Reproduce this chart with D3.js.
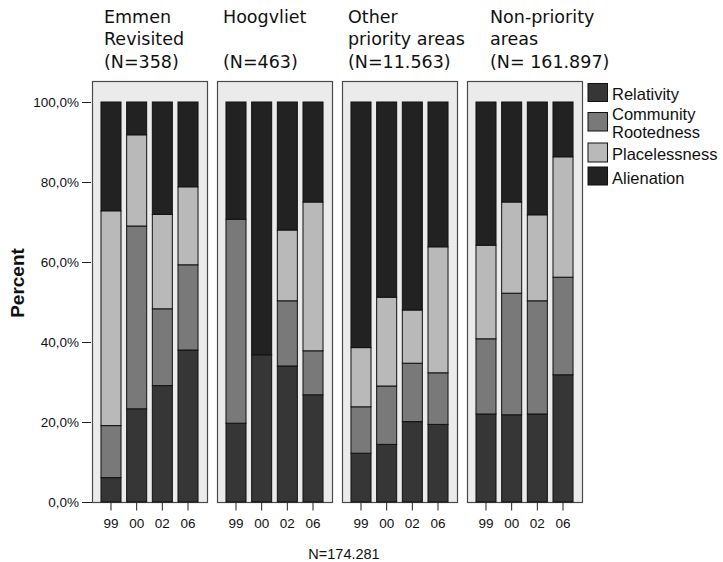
<!DOCTYPE html>
<html>
<head>
<meta charset="utf-8">
<script src="https://cdn.jsdelivr.net/npm/d3@7"></script>
<style>
  body { margin: 0; background: #fff; }
  svg { display: block; }
  text { font-family: "Liberation Sans", Arial, sans-serif; fill: #111; }
  .title { font-family: "DejaVu Sans", sans-serif; font-size: 17.5px; }
</style>
</head>
<body>
<svg width="723" height="562"></svg>
<script>
// data (percent per year inside each area)
var areas = ["Emmen Revisited", "Hoogvliet", "Other priority areas", "Non-priority areas"];
var titleLines = [
  ["Emmen", "Revisited", "(N=358)"],
  ["Hoogvliet", "", "(N=463)"],
  ["Other", "priority areas", "(N=11.563)"],
  ["Non-priority", "areas", "(N= 161.897)"]
];
var years = ["99", "00", "02", "06"];
var categories = ["Relativity", "Community Rootedness", "Placelessness", "Alienation"];

var relativity    = [[6.1, 23.3, 29.1, 38.0], [19.7, 36.8, 34.0, 26.8], [12.2, 14.4, 20.1, 19.4], [22.0, 21.8, 22.0, 31.8]];
var community     = [[13.0, 45.7, 19.2, 21.3], [51.0, 0, 16.3, 11.0], [11.6, 14.6, 14.6, 12.9], [18.8, 30.4, 28.3, 24.4]];
var placelessness = [[53.7, 22.8, 23.6, 19.5], [0, 0, 17.7, 37.2], [14.8, 22.2, 13.3, 31.5], [23.4, 22.8, 21.5, 30.1]];
var alienation    = [[27.2, 8.2, 28.1, 21.2], [29.3, 63.2, 32.0, 25.0], [61.4, 48.8, 52.0, 36.2], [35.8, 25.0, 28.2, 13.7]];

var yTicks = [0, 20, 40, 60, 80, 100];
var totalN = "N=174.281";

var colors = ["#363636", "#797979", "#b9b9b9", "#222222"];
var titleDx = [12, 6, 6, 23];

var svg = d3.select("svg");

var panelX = d3.scaleBand()
    .domain(areas)
    .range([92, 582])
    .paddingInner(0.08)
    .paddingOuter(0);

var barX = d3.scaleBand()
    .domain(years)
    .range([0, panelX.bandwidth()])
    .paddingInner(0.22)
    .paddingOuter(0.35);

var y = d3.scaleLinear()
    .domain([0, 100])
    .range([502, 102]);

var color = d3.scaleOrdinal().domain(categories).range(colors);

var stack = d3.stack().keys(categories);

// y axis
var yAxis = svg.append("g")
    .attr("transform", "translate(91,0)")
    .call(d3.axisLeft(y).tickValues(yTicks).tickSize(9).tickPadding(3)
      .tickFormat(function(d) { return d3.format(".1f")(d).replace(".", ",") + "%"; }));
yAxis.select(".domain").remove();
yAxis.selectAll("line").attr("stroke", "#222");
yAxis.selectAll("text").style("font-size", "13.5px").style("font-family", "Liberation Sans, Arial, sans-serif").attr("fill", "#111");

svg.append("text")
    .attr("transform", "translate(23.5,283) rotate(-90)")
    .attr("text-anchor", "middle")
    .style("font-size", "19px")
    .style("font-weight", "bold")
    .text("Percent");

// panels
areas.forEach(function(area, i) {
  var rows = years.map(function(yr, j) {
    return {
      year: yr,
      "Relativity": relativity[i][j],
      "Community Rootedness": community[i][j],
      "Placelessness": placelessness[i][j],
      "Alienation": alienation[i][j]
    };
  });
  var series = stack(rows);
  var px = panelX(area);
  var g = svg.append("g").attr("transform", "translate(" + px + ",0)");

  g.append("rect")
      .attr("x", 0.5)
      .attr("y", 81.5)
      .attr("width", panelX.bandwidth())
      .attr("height", y(0) - 81)
      .attr("fill", "#ebebeb")
      .attr("stroke", "#4a4a4a")
      .attr("stroke-width", 1.2);

  g.selectAll("g.layer")
    .data(series)
    .enter().append("g")
      .attr("class", "layer")
      .attr("fill", function(d) { return color(d.key); })
    .selectAll("rect")
    .data(function(d) { return d.filter(function(p) { return p[1] - p[0] > 0; }); })
    .enter().append("rect")
      .attr("x", function(d) { return barX(d.data.year); })
      .attr("y", function(d) { return y(d[1]); })
      .attr("width", barX.bandwidth())
      .attr("height", function(d) { return y(d[0]) - y(d[1]); })
      .attr("stroke", "#111")
      .attr("stroke-width", 1);

  var xAxis = g.append("g")
      .attr("transform", "translate(0," + (y(0) + 0.5) + ")")
      .call(d3.axisBottom(barX).tickSize(8).tickPadding(8));
  xAxis.select(".domain").remove();
  xAxis.selectAll("line").attr("stroke", "#222");
  xAxis.selectAll("text").style("font-size", "13.5px").style("font-family", "Liberation Sans, Arial, sans-serif").attr("fill", "#111");

  var t = svg.append("text")
      .attr("class", "title")
      .attr("x", px + titleDx[i])
      .attr("y", 22.7);
  titleLines[i].forEach(function(line, k) {
    t.append("tspan")
      .attr("x", px + titleDx[i])
      .attr("y", 22.7 + k * 22.4)
      .text(line);
  });
});

// y axis extends along the bottom under the 0 tick
svg.append("line")
    .attr("x1", 82).attr("x2", 92)
    .attr("y1", y(0) + 0.5).attr("y2", y(0) + 0.5)
    .attr("stroke", "#222");

// legend
var legendLabels = [["Relativity"], ["Community", "Rootedness"], ["Placelessness"], ["Alienation"]];
var legendTop = [83.5, 112.5, 143, 167];
var legendH = [18, 18.5, 19, 18];
var legend = svg.append("g");
categories.forEach(function(cat, i) {
  legend.append("rect")
      .attr("x", 588)
      .attr("y", legendTop[i])
      .attr("width", 19.5)
      .attr("height", legendH[i])
      .attr("fill", color(cat))
      .attr("stroke", "#111");
  legendLabels[i].forEach(function(line, k) {
    legend.append("text")
        .attr("x", 612)
        .attr("y", (i === 1 ? 120 : legendTop[i] + 16.5) + k * 18.3)
        .style("font-size", "16.5px")
        .text(line);
  });
});

svg.append("text")
    .attr("x", 344)
    .attr("y", 559)
    .attr("text-anchor", "middle")
    .style("font-size", "14.5px")
    .text(totalN);
</script>
</body>
</html>
